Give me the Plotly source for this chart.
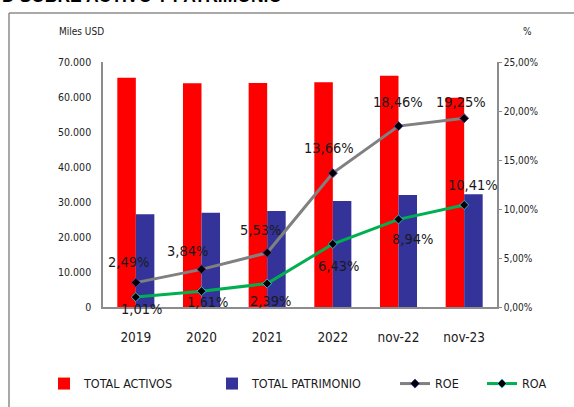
import plotly.graph_objects as go

# Datos (miles USD y %)
periodos = ["2019", "2020", "2021", "2022", "nov-22", "nov-23"]
total_activos = [65500, 63900, 64000, 64200, 66100, 59800]
total_patrimonio = [26500, 26900, 27400, 30300, 32000, 32200]
roe = [2.49, 3.84, 5.53, 13.66, 18.46, 19.25]
roa = [1.01, 1.61, 2.39, 6.43, 8.94, 10.41]

# desplazamiento de las etiquetas (px)
roe_shift = [(-7, 21), (-14, 18), (-7, 23), (-4, 25), (-1, 24), (-3, 16)]
roa_shift = [(6, -12), (6, -11), (3, -17), (6, -22), (14, -20), (9, 20)]

FONT = "DejaVu Sans Condensed, Liberation Sans Narrow, Arial Narrow, sans-serif"
GRIS = "#8c8c8c"


def pct(v):
    return f"{v:.2f}".replace(".", ",") + "%"


fig = go.Figure()
fig.add_trace(go.Bar(x=periodos, y=total_activos, name="TOTAL ACTIVOS",
                     marker_color="#FF0000", marker_line_width=0, legend="legend"))
fig.add_trace(go.Bar(x=periodos, y=total_patrimonio, name="TOTAL PATRIMONIO",
                     marker_color="#333399", marker_line_width=0, legend="legend2"))
fig.add_trace(go.Scatter(x=periodos, y=roe, name="ROE", yaxis="y2", mode="lines+markers",
                         line=dict(color="#808080", width=3),
                         marker=dict(symbol="diamond", size=7, color="black",
                                     line=dict(color="#5a3c9a", width=1)),
                         legend="legend3"))
fig.add_trace(go.Scatter(x=periodos, y=roa, name="ROA", yaxis="y2", mode="lines+markers",
                         line=dict(color="#00B050", width=3),
                         marker=dict(symbol="diamond", size=7, color="black",
                                     line=dict(color="#30b8d0", width=1)),
                         legend="legend4"))

lbl_font = dict(family=FONT, size=14.5, color="#1a1a1a")
anns = []
# x de la anotacion = indice de la categoria
for i, (v, (dx, dy)) in enumerate(zip(roe, roe_shift)):
    anns.append(dict(x=i, y=v, xref="x", yref="y2", text=pct(v), showarrow=False,
                     xshift=dx, yshift=dy, font=lbl_font))
for i, (v, (dx, dy)) in enumerate(zip(roa, roa_shift)):
    anns.append(dict(x=i, y=v, xref="x", yref="y2", text=pct(v), showarrow=False,
                     xshift=dx, yshift=dy, font=lbl_font))

anns += [
    dict(x=-0.2614, y=(307 - 8) / 245, xref="paper", yref="paper", xanchor="left", yanchor="bottom",
         text="<b>D SOBRE ACTIVO Y PATRIMONIO</b>", showarrow=False,
         font=dict(family="Liberation Sans, Arial, sans-serif", size=17.5, color="black")),
    dict(x=(81 - 103) / 394, y=(307 - 31) / 245, xref="paper", yref="paper",
         xanchor="center", yanchor="middle", text="Miles USD", showarrow=False,
         font=dict(family=FONT, size=10, color="#1a1a1a")),
    dict(x=(527 - 103) / 394, y=(307 - 31) / 245, xref="paper", yref="paper",
         xanchor="center", yanchor="middle", text="%", showarrow=False,
         font=dict(family=FONT, size=10, color="#1a1a1a")),
]

leg_font = dict(family=FONT, size=12.5, color="#1a1a1a")
leg_common = dict(orientation="h", yanchor="middle", y=-0.314, xanchor="left",
                  font=leg_font, bgcolor="rgba(0,0,0,0)", borderwidth=0)

fig.update_layout(
    width=574, height=407,
    margin=dict(l=103, r=77, t=62, b=100, autoexpand=False),
    paper_bgcolor="white", plot_bgcolor="white",
    separators=",.",
    showlegend=True,
    barmode="group", bargap=0.436, bargroupgap=0,
    font=dict(family=FONT, color="#222"),
    xaxis=dict(type="category", range=[-0.5, len(periodos) - 0.5], autorange=False,
               showline=True, linecolor=GRIS, linewidth=1.5,
               ticks="", tickfont=dict(size=13.5, color="#1a1a1a"), ticklabelstandoff=17,
               showgrid=False),
    yaxis=dict(range=[0, 70000], dtick=10000, tickformat=",.0f", showline=True,
               linecolor=GRIS, linewidth=1.5, showgrid=False, zeroline=False,
               ticks="", tickfont=dict(size=10.5, color="#222"), ticklabelstandoff=8),
    yaxis2=dict(range=[0, 25], dtick=5, tickformat=".2f", ticksuffix="%", overlaying="y",
                side="right", showline=True, linecolor=GRIS, linewidth=1.5, showgrid=False,
                zeroline=False, ticks="outside", ticklen=3, tickcolor=GRIS,
                tickfont=dict(size=10, color="#222"), ticklabelstandoff=0),
    legend=dict(x=(44 - 103) / 394, **leg_common),
    legend2=dict(x=(212 - 103) / 394, **leg_common),
    legend3=dict(x=(395 - 103) / 394, **leg_common),
    legend4=dict(x=(482 - 103) / 394, **leg_common),
    annotations=anns,
    shapes=[
        dict(type="line", xref="paper", yref="paper", x0=-0.2386, x1=1.3, y0=1.2, y1=1.2,
             line=dict(color=GRIS, width=1.5)),
        dict(type="line", xref="paper", yref="paper", x0=-0.2386, x1=-0.2386, y0=-0.5, y1=1.2,
             line=dict(color=GRIS, width=1.5)),
    ],
)

# sin margen del body para que la figura empiece en (0, 0)
fig.write_html("out.html", config={"displayModeBar": False},
               post_script="document.body.style.margin = '0';")
